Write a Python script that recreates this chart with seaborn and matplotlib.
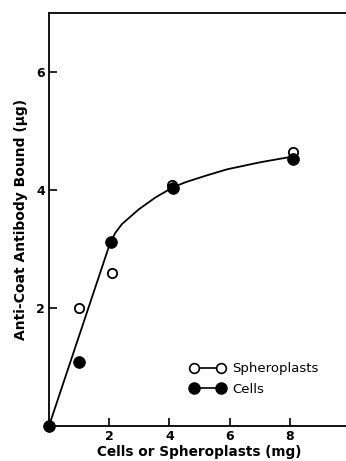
import pandas as pd
import matplotlib.pyplot as plt
import seaborn as sns
from matplotlib.lines import Line2D

# measured points
sph_x = [1.0, 2.1, 4.1, 8.1]
sph_y = [2.0, 2.6, 4.08, 4.65]
cell_x = [0.0, 1.0, 2.05, 4.12, 8.1]
cell_y = [0.0, 1.08, 3.12, 4.03, 4.52]

# hand-drawn fit line
curve_x = [0.0, 2.03, 2.2, 2.42, 2.98, 3.53, 4.1, 4.53, 5.2, 5.92, 7.03, 7.92, 8.05]
curve_y = [0.0, 3.1, 3.27, 3.42, 3.67, 3.87, 4.04, 4.13, 4.24, 4.35, 4.47, 4.55, 4.56]

xticks = [2, 4, 6, 8]
yticks = [2, 4, 6]

sns.set_style("ticks")
plt.rcParams['font.family'] = ['DejaVu Sans']
plt.rcParams.update({'text.color': 'black', 'axes.labelcolor': 'black',
                     'xtick.color': 'black', 'ytick.color': 'black'})

fig = plt.figure(figsize=(3.46, 4.61), dpi=100)
ax = fig.add_axes([0.1416, 0.076, 0.87, 0.896])

curve = pd.DataFrame({'x': curve_x, 'y': curve_y})
sns.lineplot(data=curve, x='x', y='y', color='black', linewidth=1.3, ax=ax, sort=False)

sph = pd.DataFrame({'x': sph_x, 'y': sph_y})
cells = pd.DataFrame({'x': cell_x, 'y': cell_y})
sns.scatterplot(data=sph, x='x', y='y', marker='o', s=45, facecolor='white',
                edgecolor='black', linewidth=1.3, ax=ax, zorder=3, clip_on=False)
sns.scatterplot(data=cells, x='x', y='y', marker='o', s=70, color='black',
                edgecolor='black', ax=ax, zorder=4, clip_on=False)

ax.set_xlim(0, 10)
ax.set_ylim(0, 7)
ax.set_xticks(xticks)
ax.set_yticks(yticks)
ax.set_xticklabels([str(t) for t in xticks], fontsize=9, fontweight='bold')
ax.set_yticklabels([str(t) for t in yticks], fontsize=9, fontweight='bold')
ax.tick_params(direction='in', length=6, width=1.2, pad=3)
for side in ['left', 'bottom', 'top']:
    ax.spines[side].set_linewidth(1.3)
    ax.spines[side].set_color('black')
ax.spines['right'].set_visible(False)

ax.set_xlabel('Cells or Spheroplasts (mg)', fontsize=9.8, fontweight='bold', labelpad=1)
ax.set_ylabel('Anti-Coat Antibody Bound (μg)', fontsize=10, fontweight='bold', labelpad=6)

handles = [
    Line2D([0], [0], color='black', lw=1.2, marker='o', markersize=7,
           markerfacecolor='white', markeredgecolor='black', markeredgewidth=1.2),
    Line2D([0], [0], color='black', lw=1.2, marker='o', markersize=8,
           markerfacecolor='black', markeredgecolor='black'),
]
ax.legend(handles, ['Spheroplasts', 'Cells'], loc='lower left',
          bbox_to_anchor=(0.43, 0.045), frameon=False, fontsize=9.5,
          numpoints=2, handlelength=2.6, handletextpad=0.6, labelspacing=0.55)

fig.savefig('out.png', dpi=100)
